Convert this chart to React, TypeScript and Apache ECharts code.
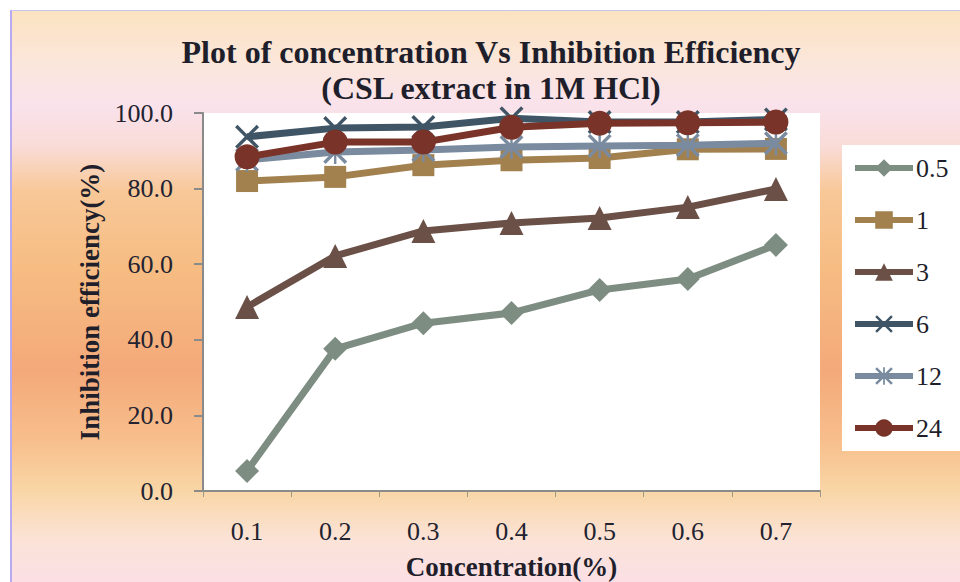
import React, { useEffect, useRef } from "react";
import * as echarts from "echarts";

const categories = ["0.1", "0.2", "0.3", "0.4", "0.5", "0.6", "0.7"];
const seriesNames = ["0.5", "1", "3", "6", "12", "24"];
const s05 = [5.3, 37.6, 44.4, 47.1, 53.2, 56.1, 65.1];
const s1 = [82.0, 83.1, 86.2, 87.5, 88.1, 90.4, 90.5];
const s3 = [48.7, 62.2, 68.8, 70.9, 72.2, 75.1, 79.9];
const s6 = [93.7, 96.0, 96.3, 98.6, 97.6, 97.6, 98.3];
const s12 = [87.6, 89.7, 90.2, 91.0, 91.3, 91.5, 92.0];
const s24 = [88.4, 92.3, 92.3, 96.2, 97.3, 97.4, 97.6];
const yTicks = { min: 0, max: 100, interval: 20 };

const colors = ["#7e8d82", "#a2814f", "#6b5047", "#3f5566", "#7a8ba0", "#7a3328"];
const XPATH = "path://M0,1L1,0L5,4L9,0L10,1L6,5L10,9L9,10L5,6L1,10L0,9L4,5Z";
const STARPATH =
  "path://M0,1L1,0L5,4L9,0L10,1L6,5L10,9L9,10L5,6L1,10L0,9L4,5ZM4.5,0L5.5,0L5.5,10L4.5,10Z";
const symbols = ["diamond", "rect", "triangle", XPATH, STARPATH, "circle"];
const sizes = [24, 22, 24, 24, 24, 25];

const FONT = "Liberation Serif, Times New Roman, serif";

export default function App() {
  const ref = useRef<HTMLDivElement>(null);
  useEffect(() => {
    if (!ref.current) return;
    const chart = echarts.init(ref.current, null, { renderer: "svg" });
    const data = [s05, s1, s3, s6, s12, s24];
    chart.setOption({
      animation: false,
      backgroundColor: "transparent",
      textStyle: { fontFamily: FONT },
      title: {
        text: "Plot of concentration Vs Inhibition Efficiency\n(CSL extract in 1M HCl)",
        left: 491,
        top: 34,
        textAlign: "center",
        padding: 0,
        textStyle: {
          fontFamily: FONT,
          fontSize: 32,
          fontWeight: "bold",
          color: "#1f1f2c",
          lineHeight: 36,
        },
      },
      legend: {
        orient: "vertical",
        left: 842,
        top: 145,
        backgroundColor: "#ffffff",
        padding: [10, 12, 10, 10],
        itemWidth: 58,
        itemHeight: 22,
        itemGap: 26,
        data: seriesNames,
        lineStyle: { width: 6 },
        textStyle: {
          fontFamily: FONT,
          fontSize: 26,
          lineHeight: 26,
          color: "#1f1f2c",
          padding: [0, 0, 0, -2],
        },
      },
      grid: {
        left: 203,
        right: 140,
        top: 113,
        bottom: 91,
        show: true,
        backgroundColor: "#ffffff",
        borderWidth: 0,
        containLabel: false,
        outerBoundsMode: "none",
      },
      xAxis: {
        type: "category",
        data: categories,
        boundaryGap: true,
        name: "Concentration(%)",
        nameLocation: "middle",
        nameGap: 62,
        nameTextStyle: {
          fontFamily: FONT,
          fontSize: 27,
          fontWeight: "bold",
          color: "#1f1f2c",
        },
        axisLine: { lineStyle: { color: "#8a8a8a", width: 2 } },
        axisTick: { show: true, length: 6, lineStyle: { color: "#9a9a8a", width: 1 } },
        axisLabel: { fontFamily: FONT, fontSize: 26, color: "#222230", margin: 27 },
        splitLine: { show: false },
      },
      yAxis: {
        type: "value",
        min: yTicks.min,
        max: yTicks.max,
        interval: yTicks.interval,
        name: "Inhibition efficiency(%)",
        nameLocation: "middle",
        nameGap: 100,
        nameTextStyle: {
          fontFamily: FONT,
          fontSize: 27,
          fontWeight: "bold",
          color: "#1f1f2c",
        },
        axisLine: { show: true, lineStyle: { color: "#8a8a8a", width: 2 } },
        axisTick: { show: true, length: 9, lineStyle: { color: "#8a8a8a", width: 2 } },
        axisLabel: {
          fontFamily: FONT,
          fontSize: 26,
          color: "#222230",
          margin: 30,
          formatter: (v: number) => v.toFixed(1),
        },
        splitLine: { show: false },
      },
      series: seriesNames.map((n, i) => ({
        name: n,
        type: "line",
        data: data[i],
        symbol: symbols[i],
        symbolSize: sizes[i],
        showAllSymbol: true,
        lineStyle: { color: colors[i], width: 7 },
        itemStyle: { color: colors[i] },
        emphasis: { disabled: true },
        z: 2 + i,
      })),
    });
    return () => chart.dispose();
  }, []);

  return (
    <div
      style={{
        position: "fixed",
        left: 0,
        top: 0,
        width: 960,
        height: 582,
        background: "#ffffff",
        overflow: "hidden",
      }}
    >
      <div
        style={{
          position: "absolute",
          left: 10,
          top: 10,
          right: 0,
          bottom: 0,
          borderLeft: "2px solid #b9a9ef",
          borderTop: "1px solid #c9c3f2",
          background:
            "linear-gradient(to bottom, #fbe2c0 0px, #fbe6da 50px, #fae2ec 95px, #f9dcd8 135px, #f8c898 180px, #f6bc82 260px, #f4a97a 360px, #f7bf8c 430px, #f9d6a6 480px, #fbe3d8 530px, #fbdfe6 572px)",
        }}
      />
      <div
        ref={ref}
        style={{ position: "absolute", left: 0, top: 0, width: 960, height: 582 }}
      />
    </div>
  );
}
